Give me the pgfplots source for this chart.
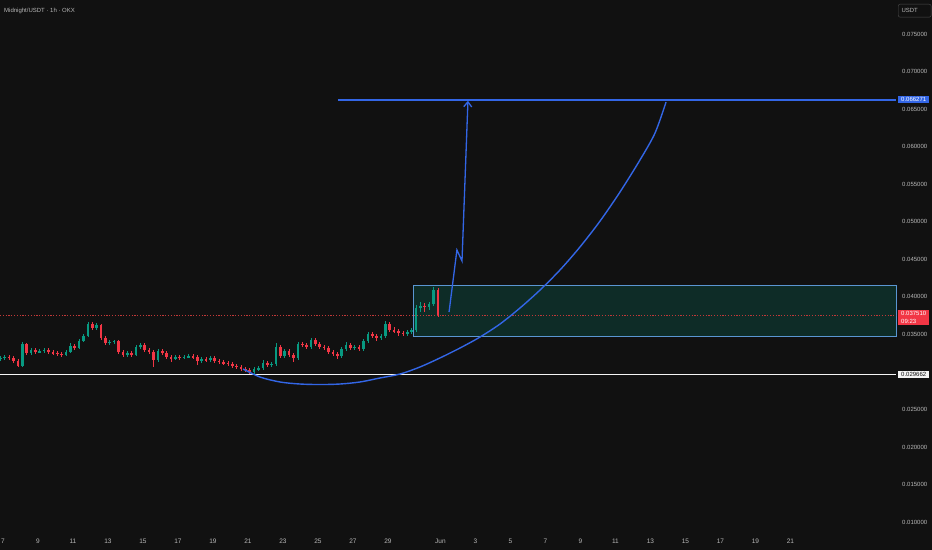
\documentclass[border=0pt]{standalone}
\usepackage{fontspec}
\setmainfont{Liberation Sans}
\usepackage{pgfplots}
\usepackage{pgfplotstable}
\pgfplotsset{compat=1.18}
\usetikzlibrary{arrows.meta}

\definecolor{bg}{HTML}{111111}
\definecolor{up}{HTML}{089981}
\definecolor{dn}{HTML}{F23645}
\definecolor{tvblue}{HTML}{3366E6}
\definecolor{zonefill}{HTML}{0E2C27}
\definecolor{zoneedge}{HTML}{5A96D2}
\definecolor{lbl}{HTML}{B8B8B8}
\definecolor{nowred}{HTML}{C03838}

% 6h candles, x = day counted from 1 May (32 = 1 Jun)
\pgfplotstableread{
x o h l c
6.85 0.03171 0.03211 0.03145 0.03185
7.10 0.03185 0.03225 0.03158 0.03198
7.35 0.03198 0.03225 0.03158 0.03185
7.60 0.03185 0.03211 0.03118 0.03145
7.85 0.03145 0.03171 0.03065 0.03078
8.10 0.03078 0.03398 0.03065 0.03371
8.35 0.03371 0.03384 0.03225 0.03251
8.60 0.03251 0.03318 0.03225 0.03291
8.85 0.03291 0.03318 0.03238 0.03264
9.10 0.03264 0.03304 0.03251 0.03278
9.35 0.03278 0.03318 0.03251 0.03291
9.60 0.03291 0.03318 0.03238 0.03264
9.85 0.03264 0.03291 0.03225 0.03251
10.10 0.03251 0.03278 0.03211 0.03238
10.35 0.03238 0.03264 0.03198 0.03225
10.60 0.03225 0.03291 0.03211 0.03264
10.85 0.03264 0.03384 0.03251 0.03344
11.10 0.03344 0.03371 0.03291 0.03318
11.35 0.03318 0.03438 0.03304 0.03411
11.60 0.03411 0.03504 0.03398 0.03478
11.85 0.03478 0.03664 0.03464 0.03637
12.10 0.03637 0.03664 0.03557 0.03584
12.35 0.03584 0.03651 0.03557 0.03624
12.60 0.03624 0.03637 0.03424 0.03451
12.85 0.03451 0.03478 0.03358 0.03384
13.10 0.03384 0.03424 0.03358 0.03398
13.35 0.03398 0.03424 0.03371 0.03411
13.60 0.03411 0.03424 0.03238 0.03264
13.85 0.03264 0.03291 0.03198 0.03225
14.10 0.03225 0.03278 0.03198 0.03251
14.35 0.03251 0.03278 0.03198 0.03225
14.60 0.03225 0.03358 0.03211 0.03331
14.85 0.03331 0.03384 0.03304 0.03358
15.10 0.03358 0.03384 0.03264 0.03291
15.35 0.03291 0.03318 0.03238 0.03264
15.60 0.03264 0.03291 0.03065 0.03158
15.85 0.03158 0.03304 0.03131 0.03278
16.10 0.03278 0.03304 0.03225 0.03251
16.35 0.03251 0.03278 0.03171 0.03198
16.60 0.03198 0.03225 0.03131 0.03171
16.85 0.03171 0.03225 0.03158 0.03198
17.10 0.03198 0.03225 0.03158 0.03185
17.35 0.03185 0.03225 0.03171 0.03198
17.60 0.03198 0.03238 0.03185 0.03211
17.85 0.03211 0.03238 0.03171 0.03198
18.10 0.03198 0.03225 0.03091 0.03145
18.35 0.03145 0.03198 0.03118 0.03171
18.60 0.03171 0.03198 0.03131 0.03158
18.85 0.03158 0.03211 0.03131 0.03185
19.10 0.03185 0.03211 0.03118 0.03145
19.35 0.03145 0.03171 0.03105 0.03131
19.60 0.03131 0.03158 0.03091 0.03118
19.85 0.03118 0.03145 0.03078 0.03105
20.10 0.03105 0.03131 0.03051 0.03078
20.35 0.03078 0.03105 0.03038 0.03065
20.60 0.03065 0.03091 0.03011 0.03038
20.85 0.03038 0.03065 0.02998 0.03025
21.10 0.03025 0.03051 0.02971 0.02998
21.35 0.02998 0.03065 0.02971 0.03038
21.60 0.03038 0.03078 0.03011 0.03051
21.85 0.03051 0.03158 0.03025 0.03118
22.10 0.03118 0.03145 0.03065 0.03091
22.35 0.03091 0.03131 0.03065 0.03105
22.60 0.03105 0.03384 0.03078 0.03331
22.85 0.03331 0.03358 0.03185 0.03211
23.10 0.03211 0.03304 0.03185 0.03278
23.35 0.03278 0.03304 0.03198 0.03225
23.60 0.03225 0.03251 0.03131 0.03185
23.85 0.03185 0.03398 0.03158 0.03371
24.10 0.03371 0.03398 0.03331 0.03358
24.35 0.03358 0.03384 0.03304 0.03331
24.60 0.03331 0.03451 0.03304 0.03424
24.85 0.03424 0.03451 0.03344 0.03371
25.10 0.03371 0.03398 0.03304 0.03331
25.35 0.03331 0.03358 0.03291 0.03318
25.60 0.03318 0.03344 0.03238 0.03264
25.85 0.03264 0.03291 0.03211 0.03238
26.10 0.03238 0.03264 0.03171 0.03211
26.35 0.03211 0.03331 0.03185 0.03304
26.60 0.03304 0.03398 0.03278 0.03358
26.85 0.03358 0.03384 0.03291 0.03318
27.10 0.03318 0.03358 0.03291 0.03331
27.35 0.03331 0.03358 0.03278 0.03304
27.60 0.03304 0.03438 0.03278 0.03411
27.85 0.03411 0.03531 0.03384 0.03504
28.10 0.03504 0.03531 0.03451 0.03478
28.35 0.03478 0.03504 0.03411 0.03451
28.60 0.03451 0.03504 0.03424 0.03478
28.85 0.03478 0.03677 0.03451 0.03637
29.10 0.03637 0.03664 0.03531 0.03557
29.35 0.03557 0.03597 0.03518 0.03544
29.60 0.03544 0.03571 0.03478 0.03518
29.85 0.03518 0.03544 0.03478 0.03504
30.10 0.03504 0.03557 0.03478 0.03531
30.35 0.03531 0.03584 0.03504 0.03557
30.60 0.03557 0.03890 0.03531 0.03850
30.85 0.03850 0.03930 0.03797 0.03877
31.10 0.03877 0.03917 0.03797 0.03864
31.35 0.03864 0.03930 0.03824 0.03904
31.60 0.03904 0.04130 0.03877 0.04090
31.85 0.04090 0.04117 0.03730 0.03751
}\candles

\begin{document}
\begin{tikzpicture}
\useasboundingbox (0,0) rectangle (932bp,550bp);
\fill[bg] (0,0) rectangle (932bp,550bp);
\begin{axis}[
    at={(0,0)}, anchor=south west,
    scale only axis, width=896bp, height=550bp,
    xmin=6.83, xmax=58.03,
    ymin=0.006273, ymax=0.079528,
    clip=false,
    axis line style={draw=none},
    major tick length=0pt,
    scaled y ticks=false,
    xtick={7,9,11,13,15,17,19,21,23,25,27,29,32,34,36,38,40,42,44,46,48,50,52},
    xticklabels={7,9,11,13,15,17,19,21,23,25,27,29,Jun,3,5,7,9,11,13,15,17,19,21},
    xticklabel style={anchor=center, yshift=9bp, inner sep=0pt,
        font=\fontsize{6.5bp}{7.5bp}\selectfont, text=lbl},
    ytick={0.010,0.015,0.020,0.025,0.035,0.040,0.045,0.050,0.055,0.060,0.065,0.070,0.075},
    yticklabels={0.010000,0.015000,0.020000,0.025000,0.035000,0.040000,0.045000,
        0.050000,0.055000,0.060000,0.065000,0.070000,0.075000},
    yticklabel pos=right,
    yticklabel style={anchor=west, xshift=6bp, inner sep=0pt,
        font=\fontsize{6bp}{7bp}\selectfont, text=lbl},
]
% zone
\addplot[fill=zonefill, draw=zoneedge, line width=1bp]
    coordinates {(30.43,0.0415) (58.03,0.0415) (58.03,0.0347) (30.43,0.0347)} -- cycle;

% current price line
\addplot[nowred, dash pattern=on 1.2bp off 1.6bp, line width=0.8bp]
    coordinates {(6.83,0.03751) (58.03,0.03751)};

% candles: wicks then bodies
\addplot[draw=none, mark=none, forget plot,
    restrict expr to domain={\thisrow{c}-\thisrow{o}}{0:1},
    error bars/.cd, y dir=both, y explicit, error mark=none,
    error bar style={line width=0.5bp, draw=up}]
    table[x=x, y expr={(\thisrow{h}+\thisrow{l})/2},
          y error expr={(\thisrow{h}-\thisrow{l})/2}] {\candles};
\addplot[draw=none, mark=none, forget plot,
    restrict expr to domain={\thisrow{c}-\thisrow{o}}{-1:-0.000001},
    error bars/.cd, y dir=both, y explicit, error mark=none,
    error bar style={line width=0.5bp, draw=dn}]
    table[x=x, y expr={(\thisrow{h}+\thisrow{l})/2},
          y error expr={(\thisrow{h}-\thisrow{l})/2}] {\candles};
\addplot[draw=none, mark=none, forget plot,
    restrict expr to domain={\thisrow{c}-\thisrow{o}}{0:1},
    error bars/.cd, y dir=both, y explicit, error mark=none,
    error bar style={line width=2.6bp, draw=up}]
    table[x=x, y expr={(\thisrow{o}+\thisrow{c})/2},
          y error expr={max(abs(\thisrow{c}-\thisrow{o})/2,0.00004)}] {\candles};
\addplot[draw=none, mark=none, forget plot,
    restrict expr to domain={\thisrow{c}-\thisrow{o}}{-1:-0.000001},
    error bars/.cd, y dir=both, y explicit, error mark=none,
    error bar style={line width=2.6bp, draw=dn}]
    table[x=x, y expr={(\thisrow{o}+\thisrow{c})/2},
          y error expr={max(abs(\thisrow{c}-\thisrow{o})/2,0.00004)}] {\candles};

% support and target lines
\addplot[white!92!gray, line width=1.6bp]
    coordinates {(6.83,0.029662) (58.03,0.029662)};
\addplot[tvblue, line width=2bp]
    coordinates {(26.14,0.066271) (58.03,0.066271)};

% rounding-bottom curve
\addplot[tvblue, line width=1.4bp, smooth] coordinates {
    (20.72,0.03038) (21.69,0.02931) (22.83,0.02865) (23.97,0.02838)
    (25.12,0.02831) (26.26,0.02838) (27.40,0.02865) (28.54,0.02918)
    (29.69,0.02971) (30.83,0.03065) (31.97,0.03185) (33.12,0.03318)
    (34.26,0.03464) (35.40,0.03637) (36.54,0.03850) (37.69,0.04090)
    (38.83,0.04357) (39.97,0.04663) (41.12,0.05009) (42.26,0.05396)
    (43.40,0.05822) (44.26,0.06181) (44.89,0.06594)};

% projected move arrow
\addplot[tvblue, line width=1.3bp, -{Straight Barb[length=5bp,width=8bp]}]
    coordinates {(32.49,0.03797) (32.94,0.04623) (33.23,0.04477) (33.57,0.0661)};

% price labels on the scale
\node[anchor=west, xshift=2bp, fill=tvblue, text=white, inner sep=1.5bp,
      minimum width=31bp, align=left, font=\fontsize{6bp}{7bp}\selectfont]
    at (axis cs:58.03,0.066271) {0.066271};
\node[anchor=north west, xshift=2bp, yshift=5.5bp, fill=dn, text=white, inner sep=1.5bp,
      minimum width=31bp, align=left, font=\fontsize{6bp}{8bp}\selectfont]
    at (axis cs:58.03,0.03751) {0.037510\\09:23};
\node[anchor=west, xshift=2bp, fill=white!90!gray, text=bg, inner sep=1.5bp,
      minimum width=31bp, align=left, font=\fontsize{6bp}{7bp}\selectfont]
    at (axis cs:58.03,0.029662) {0.029662};

% header
\node[anchor=north west, xshift=4bp, yshift=-8bp, inner sep=0pt, text=lbl,
      font=\fontsize{6bp}{7bp}\selectfont]
    at (rel axis cs:0,1) {Midnight/USDT · 1h · OKX};
\node[anchor=north west, xshift=2bp, yshift=-4bp, draw=white!25!bg, rounded corners=2bp,
      minimum width=31bp, minimum height=13bp, text=lbl, align=left,
      font=\fontsize{6bp}{7bp}\selectfont]
    at (rel axis cs:1,1) {USDT\hspace*{10bp}};
\end{axis}
\end{tikzpicture}
\end{document}
